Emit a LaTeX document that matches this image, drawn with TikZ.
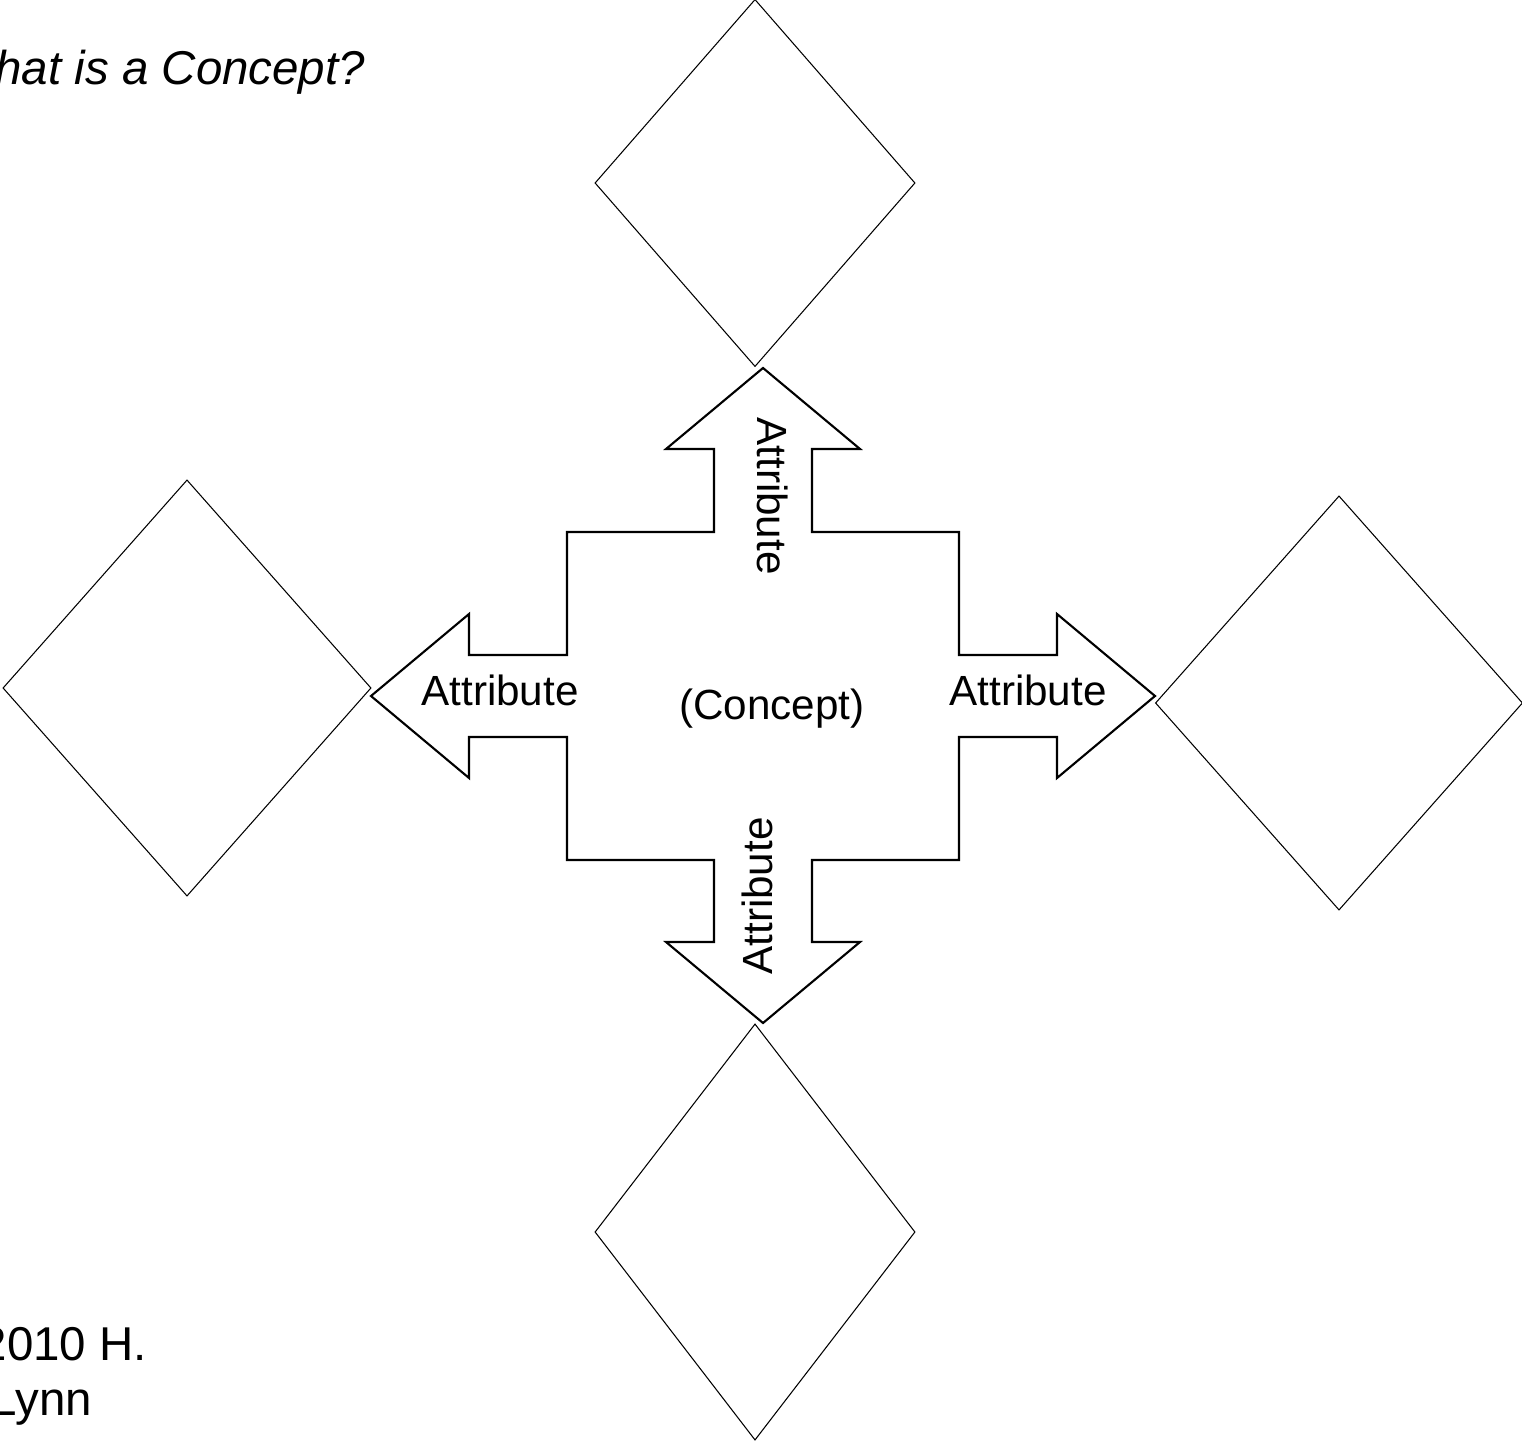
\documentclass[tikz,border=0pt]{standalone}
\usepackage{fontspec}
\setmainfont{Liberation Sans}
\usetikzlibrary{shapes.geometric}

\tikzset{
  slot/.style={draw,shape=diamond,line width=0.3pt,inner sep=0pt},
  lbl/.style={font=\fontsize{12}{14}\selectfont,inner sep=0pt},
  note/.style={font=\fontsize{13.5}{16}\selectfont,inner sep=0pt,anchor=base west},
  cross/.style={line width=0.6pt,line join=miter}
}

\begin{document}
\begin{tikzpicture}[x=0.01cm,y=-0.01cm]
\useasboundingbox (0,0) rectangle (1522,1440);
\clip (0,0) rectangle (1522,1440);
% heading and credit
\node[note,font=\fontsize{13.5}{16}\selectfont\itshape] (title) at (-50,85) {What is a Concept?};
\node[note] (credit1) at (-20,1360) {2010 H.};
\node[note] (credit2) at (-10,1415) {Lynn};
% four-way arrow round the concept
\begin{scope}[shift={(763,696)}]
\draw[cross] (0,-328) -- (97,-247) -- (49,-247) -- (49,-164) -- (196,-164) -- (196,-41) -- (294,-41) -- (294,-82)
  -- (392,0) -- (294,82) -- (294,41) -- (196,41) -- (196,164) -- (49,164) -- (49,246) -- (97,246)
  -- (0,327) -- (-97,246) -- (-49,246) -- (-49,164) -- (-196,164) -- (-196,41) -- (-294,41) -- (-294,82)
  -- (-392,0) -- (-294,-82) -- (-294,-41) -- (-196,-41) -- (-196,-164) -- (-49,-164) -- (-49,-247) -- (-97,-247) -- cycle;
\end{scope}
\node[lbl] (concept) at (772,709) {(Concept)};
\node[lbl] (attrL) at (500,690) {Attribute};
\node[lbl] (attrR) at (1028,690) {Attribute};
\node[lbl,rotate=-90] (attrU) at (773,496) {Attribute};
\node[lbl,rotate=90] (attrD) at (757,896) {Attribute};
% empty diamonds
\node[slot,minimum width=3.2cm,minimum height=3.67cm] (dU) at (755,183) {};
\node[slot,minimum width=3.68cm,minimum height=4.16cm] (dL) at (187,688) {};
\node[slot,minimum width=3.67cm,minimum height=4.14cm] (dR) at (1339,703) {};
\node[slot,minimum width=3.2cm,minimum height=4.16cm] (dD) at (755,1232) {};
\end{tikzpicture}
\end{document}
